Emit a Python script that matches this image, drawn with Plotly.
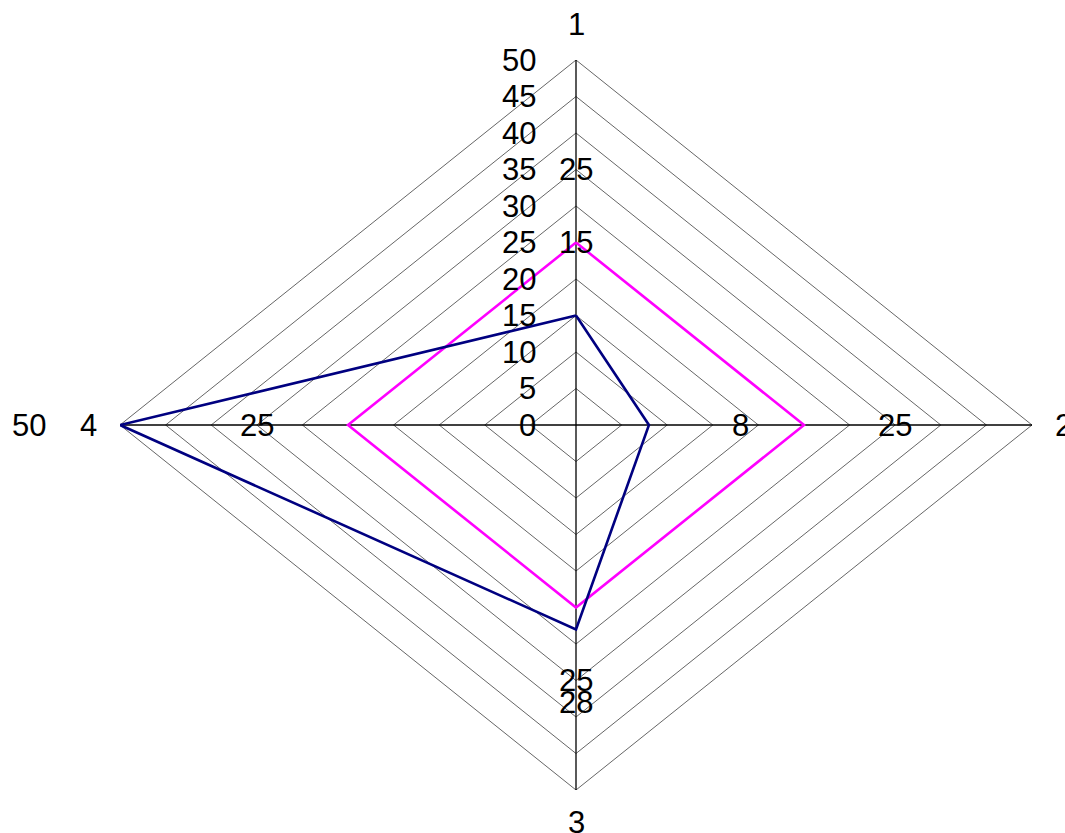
import plotly.graph_objects as go

# Radar chart drawn on a plain cartesian plane: spoke k points up, right, down, left.
categories = ["1", "2", "3", "4"]
series_navy = [15, 8, 28, 50]
series_magenta = [25, 25, 25, 25]
tick_values = [0, 5, 10, 15, 20, 25, 30, 35, 40, 45, 50]
r_max = 50
label_offset = 10

# unit direction of each spoke
directions = [(0, 1), (1, 0), (0, -1), (-1, 0)]

# plot-area geometry (pixels)
plot_w = 1065 - 120 - 33
plot_h = 833 - 60 - 43
px_x = plot_w / (2 * r_max)
px_y = plot_h / (2 * r_max)


def to_xy(values):
    xs = [dx * v for (dx, dy), v in zip(directions, values)]
    ys = [dy * v for (dx, dy), v in zip(directions, values)]
    return xs + xs[:1], ys + ys[:1]


def radial_annotation(direction, r, text, font):
    """Place text at radius r; beyond the axis range it is anchored on the edge and shifted."""
    dx, dy = direction
    edge = min(r, r_max - 0.01)
    extra = r - edge
    return dict(x=dx * edge, y=dy * edge, text=text, showarrow=False,
                xanchor="center", yanchor="middle",
                xshift=dx * extra * px_x, yshift=dy * extra * px_y, font=font)


fig = go.Figure()

# concentric grid diamonds
for t in tick_values[1:]:
    gx, gy = to_xy([t] * 4)
    fig.add_trace(go.Scatter(x=gx, y=gy, mode="lines",
                             line=dict(color="#666666", width=1),
                             hoverinfo="skip", showlegend=False))

# spokes
for dx, dy in directions:
    fig.add_trace(go.Scatter(x=[0, dx * r_max], y=[0, dy * r_max], mode="lines",
                             line=dict(color="#000000", width=1.3),
                             hoverinfo="skip", showlegend=False))

# data series
for vals, col in [(series_magenta, "#ff00ff"), (series_navy, "#000080")]:
    sx, sy = to_xy(vals)
    fig.add_trace(go.Scatter(x=sx, y=sy, mode="lines",
                             line=dict(color=col, width=2.6),
                             showlegend=False))

font = dict(family="Liberation Sans, Arial, sans-serif", size=31, color="#000000")
annotations = []

# radial tick labels along spoke 1
for t in tick_values:
    annotations.append(dict(x=0, y=t, text=str(t), showarrow=False,
                            xanchor="right", yanchor="middle", xshift=-38,
                            font=font))

# value labels, pushed outward from each point
for vals in (series_navy, series_magenta):
    for d, v in zip(directions, vals):
        annotations.append(radial_annotation(d, v + label_offset, str(v), font))

# category labels beyond the outer ring
cat_r = [54.8, 53.4, 54.4, 53.5]
for d, name, r in zip(directions, categories, cat_r):
    annotations.append(radial_annotation(d, r, name, font))

fig.update_layout(
    width=1065, height=833,
    margin=dict(l=120, r=33, t=60, b=43),
    paper_bgcolor="#ffffff", plot_bgcolor="#ffffff",
    xaxis=dict(range=[-r_max, r_max], visible=False, fixedrange=True),
    yaxis=dict(range=[-r_max, r_max], visible=False, fixedrange=True),
    annotations=annotations,
    showlegend=False,
)

fig.write_html("out.html")
